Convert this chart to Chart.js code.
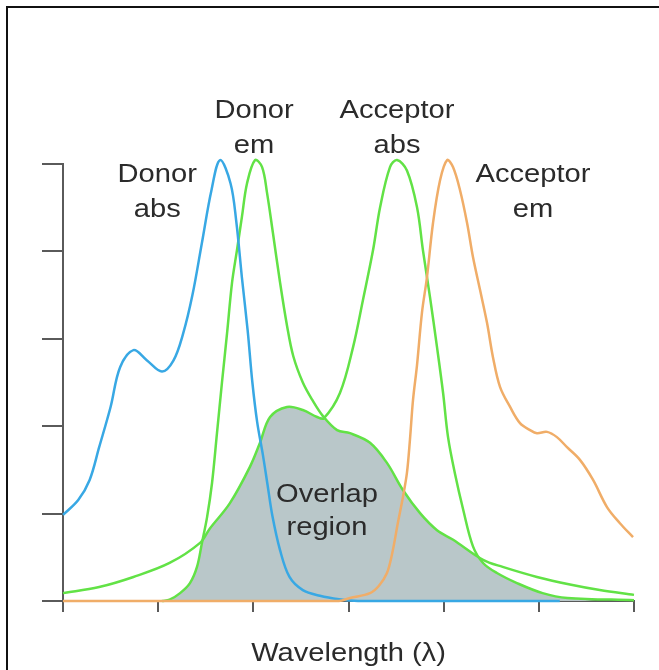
<!DOCTYPE html>
<html>
<head>
<meta charset="utf-8">
<script src="https://cdn.jsdelivr.net/npm/chart.js@4"></script>
<style>
    body { margin: 0; background: #fff; }
    #wrap { position: relative; width: 659px; height: 670px; }
    #frame { position: absolute; left: 6px; top: 6px; right: 0; bottom: 0; border-top: 2px solid #111; border-left: 2px solid #111; pointer-events: none; }
</style>
</head>
<body>
<div id="wrap">
    <canvas id="spectraChart" width="659" height="670"></canvas>
    <div id="frame"></div>
</div>
<script>
// Wavelength (x) and relative intensity (y)
const donorAbsX = [400, 408, 414, 419, 425, 430, 437, 444, 452, 458, 463, 468, 473, 478, 482.5, 488, 491, 494, 497, 499.5, 502, 505, 507.5, 510, 514, 519, 526, 535, 545, 555, 600, 661];
const donorAbsY = [19.7, 23.1, 27.7, 35.2, 44.4, 53.5, 57.4, 55.1, 52.5, 55, 61, 70, 82, 94, 100.9, 95.6, 87, 74, 62, 50, 41, 33.5, 26.5, 19.5, 11.7, 5.5, 2.5, 1.2, 0.4, 0, 0, 0];

const donorEmX = [452, 456, 461.5, 466.7, 470.4, 473, 475.7, 478.3, 480.9, 483.5, 486.2, 488.8, 491.4, 494, 496.7, 500.9, 504.6, 507.2, 510.3, 514, 517.7, 521, 526, 531, 536.6, 544, 550.8, 561.3, 570.2, 578.6, 587.6, 596.5, 605, 620.7, 631, 649, 667, 682, 700];
const donorEmY = [0, 0.3, 1.8, 4.1, 7.8, 13.3, 19.2, 27, 38.4, 49.9, 61.3, 72.8, 80.3, 87.9, 95.6, 100.9, 99.3, 93.4, 84.2, 73, 63, 56, 50, 46, 42.3, 39.1, 38.4, 36.2, 31.6, 25.4, 20.1, 16.2, 14, 9.4, 7.8, 5.5, 3.7, 2.5, 1.4];

const acceptorAbsX = [400, 419, 437, 456, 472, 477, 487.7, 498.2, 503.5, 508.8, 517.7, 526, 533.5, 537, 545.5, 552.4, 557.6, 562.9, 566.6, 571.8, 575.5, 580.7, 586, 589.1, 592.8, 596.5, 599.7, 602.3, 606, 610.2, 615.4, 620.7, 628, 638.5, 652, 665, 700];
const acceptorAbsY = [1.8, 3.2, 5.5, 8.7, 13.3, 16.5, 22.4, 30.7, 36.2, 42.1, 44.4, 43.7, 42.1, 41.8, 47.6, 58.1, 68.9, 80.3, 90.1, 99.3, 100.9, 98.5, 90.1, 80.3, 69.6, 58.1, 47.6, 37.5, 29, 21, 12.5, 8.7, 6.4, 4.1, 1.8, 0.7, 0.2];

const acceptorEmX = [400, 545, 550.8, 561.3, 566, 570.2, 573, 576, 578.6, 580.7, 582.3, 583.9, 586, 588.6, 591.2, 594.4, 598.1, 601.8, 604.9, 608.6, 612.3, 615.4, 619.1, 622.8, 625.9, 629.6, 634.9, 640.1, 645.4, 649, 654.3, 659.5, 664.8, 671.6, 678.5, 685.8, 692.6, 699.5];
const acceptorEmY = [0, 0, 0.7, 1.8, 3.5, 6.4, 11, 18, 23.8, 29.3, 37, 46, 54, 66, 74, 86.5, 96.3, 100.9, 99.3, 94, 86.5, 78.7, 71.2, 63.6, 55.8, 49, 44.4, 40.7, 39.1, 38.4, 38.7, 37.5, 35.2, 32.3, 27.7, 21.5, 17.8, 14.6];

// Shaded overlap (under both donor emission and acceptor absorption)
const overlapX = [456, 461.5, 466.7, 470.4, 473, 477, 487.7, 498.2, 503.5, 508.8, 517.7, 526, 533.5, 536.6, 544, 550.8, 561.3, 570.2, 578.6, 587.6, 596.5, 605, 610.2, 615.4, 620.7, 628, 638.5, 652, 665, 680];
const overlapY = [0, 1.8, 4.1, 7.8, 13.3, 16.5, 22.4, 30.7, 36.2, 42.1, 44.4, 43.7, 42.1, 42.1, 39.1, 38.4, 36.2, 31.6, 25.4, 20.1, 16.2, 14, 12.4, 10.8, 8.7, 6.4, 4.1, 1.8, 0.7, 0];

// Axis range and tick steps
const xRange = [400, 700];
const xStep = 50;
const yRange = [0, 100];
const yStep = 20;

// Text labels: lines, and where they sit in data units (x, baseline y)
const curveLabels = [
    { lines: ['Donor', 'abs'], x: 449.5, y: [95.9, 87.9] },
    { lines: ['Donor', 'em'], x: 500.4, y: [110.5, 102.5] },
    { lines: ['Acceptor', 'abs'], x: 575.5, y: [110.5, 102.5] },
    { lines: ['Acceptor', 'em'], x: 646.9, y: [95.9, 87.9] },
    { lines: ['Overlap', 'region'], x: 538.7, y: [22.7, 15.1] }
];
const axisTitle = 'Wavelength (\u03bb)';

function toPoints(xs, ys) {
    return xs.map((x, i) => ({ x: x, y: ys[i] }));
}

const textFont = '26px "Liberation Sans", Arial, Helvetica, sans-serif';
const textColor = '#2b2b2b';
const stretch = 1.12; // text in the picture is a little wide

function drawStretchedText(ctx, text, cx, baseline) {
    ctx.save();
    ctx.translate(cx, baseline);
    ctx.scale(stretch, 1);
    ctx.fillText(text, 0, 0);
    ctx.restore();
}

const labelPlugin = {
    id: 'curveLabels',
    afterDraw(chart) {
        const ctx = chart.ctx;
        const xs = chart.scales.x;
        const ys = chart.scales.y;
        ctx.save();
        ctx.font = textFont;
        ctx.fillStyle = textColor;
        ctx.textAlign = 'center';
        ctx.textBaseline = 'alphabetic';
        curveLabels.forEach(label => {
            const px = xs.getPixelForValue(label.x);
            label.lines.forEach((line, i) => {
                drawStretchedText(ctx, line, px, ys.getPixelForValue(label.y[i]));
            });
        });
        // axis title under the x axis
        const area = chart.chartArea;
        drawStretchedText(ctx, axisTitle, (area.left + area.right) / 2, area.bottom + 60);
        ctx.restore();
    }
};

function lineSet(label, points, color) {
    return {
        label: label,
        data: points,
        borderColor: color,
        borderWidth: 2.5,
        pointRadius: 0,
        fill: false,
        tension: 0.35,
        clip: false
    };
}

const axisColor = '#5a5a5a';

new Chart(document.getElementById('spectraChart').getContext('2d'), {
    type: 'line',
    data: {
        datasets: [
            {
                label: 'Overlap region',
                data: toPoints(overlapX, overlapY),
                borderWidth: 0,
                backgroundColor: '#b9c7c9',
                pointRadius: 0,
                fill: 'origin',
                tension: 0.35,
                order: 5
            },
            lineSet('Acceptor em', toPoints(acceptorEmX, acceptorEmY), '#f0ad68'),
            lineSet('Donor abs', toPoints(donorAbsX, donorAbsY), '#38a8e4'),
            lineSet('Acceptor abs', toPoints(acceptorAbsX, acceptorAbsY), '#62e246'),
            lineSet('Donor em', toPoints(donorEmX, donorEmY), '#62e246')
        ]
    },
    options: {
        responsive: false,
        animation: false,
        layout: { padding: { left: 42, right: 25, top: 164, bottom: 58 } },
        plugins: {
            legend: { display: false },
            tooltip: { enabled: false }
        },
        scales: {
            x: {
                type: 'linear',
                min: xRange[0],
                max: xRange[1],
                ticks: { display: false, stepSize: xStep },
                grid: { drawOnChartArea: false, tickLength: 11, color: axisColor, lineWidth: 2 },
                border: { display: true, color: axisColor, width: 2 }
            },
            y: {
                min: yRange[0],
                max: yRange[1],
                ticks: { display: false, stepSize: yStep },
                grid: { drawOnChartArea: false, tickLength: 21, color: axisColor, lineWidth: 2 },
                border: { display: true, color: axisColor, width: 2 }
            }
        }
    },
    plugins: [labelPlugin]
});
</script>
</body>
</html>
